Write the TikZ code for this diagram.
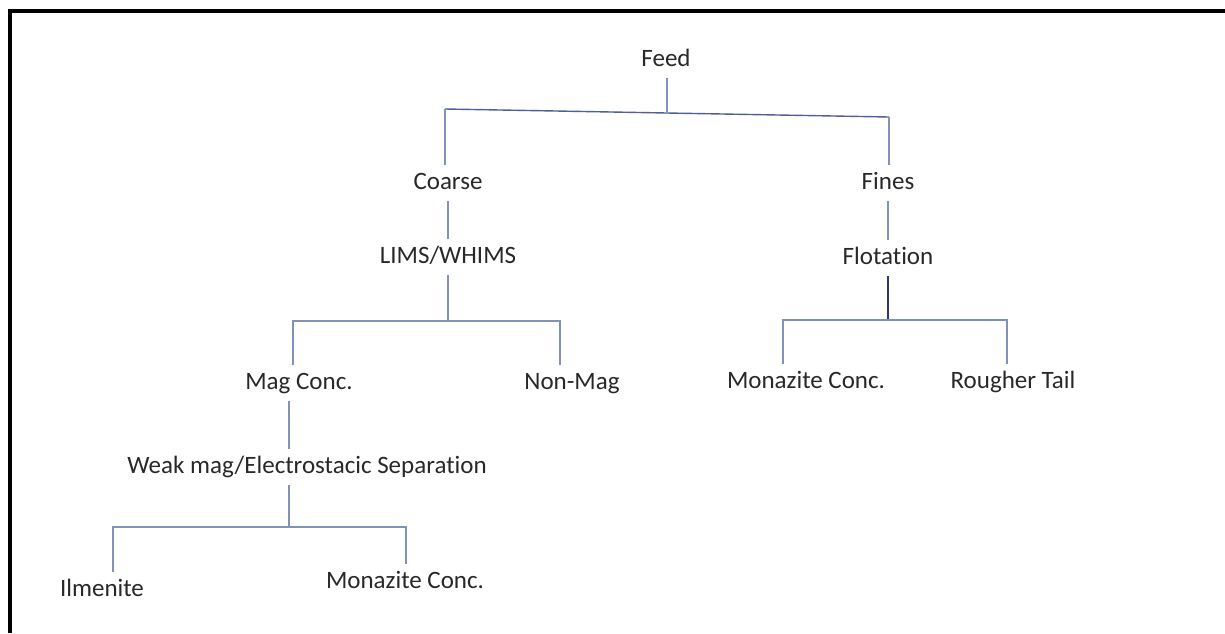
\documentclass[tikz,border=0pt]{standalone}
\usepackage{fontspec}
\setmainfont{Carlito}[Ligatures=NoCommon]
\usepackage{tikz}
\usetikzlibrary{calc}

\definecolor{txtgray}{RGB}{40,40,40}
\definecolor{linkblue}{RGB}{130,145,185}
\definecolor{barblue}{RGB}{80,95,150}
\definecolor{darkblue}{RGB}{45,55,115}

\tikzset{
    lbl/.style={anchor=base, inner sep=0pt, outer sep=6pt, text height=18pt, text depth=6pt,
        text=txtgray, font=\fontsize{25}{30}\selectfont},
    link/.style={linkblue, line width=1.4pt},
}

\begin{document}
\begin{tikzpicture}[x=1pt,y=-1pt]
        \useasboundingbox (0,0) rectangle (1225,633);

        % Moldura
        \draw[line width=4pt] (10.3,633) -- (10.3,10.5) -- (1225,10.5);

        % Etapas
        \node[lbl] (feed)   at (666,66)  {Feed};
        \node[lbl] (coarse) at (448,189) {Coarse};
        \node[lbl] (fines)  at (888,189) {Fines};
        \node[lbl] (lims)   at (448,263) {LIMS/WHIMS};
        \node[lbl] (flot)   at (888,264) {Flotation};
        \node[lbl] (magc)   at (299,389) {Mag Conc.};
        \node[lbl] (nonmag) at (572,389) {Non-Mag};
        \node[lbl] (monr)   at (806,388) {Monazite Conc.};
        \node[lbl] (rough)  at (1013,388) {Rougher Tail};
        \node[lbl] (weak)   at (307,473) {Weak mag/Electrostacic Separation};
        \node[lbl] (ilm)    at (102,596) {Ilmenite};
        \node[lbl] (monb)   at (405,588) {Monazite Conc.};

        % Junções
        \coordinate (fbL) at (445,109);
        \coordinate (fbR) at (889,117);
        \coordinate (fbM) at ($(fbL)!0.5!(fbR)$);
        \coordinate (lbL) at (293,321);
        \coordinate (lbR) at (560,321);
        \coordinate (obL) at (783,320);
        \coordinate (obR) at (1007,320);
        \coordinate (wbL) at (113,527);
        \coordinate (wbM) at (289,527);
        \coordinate (wbR) at (406,527);

        % Feed
        \draw[barblue, line width=1.4pt] (fbL) -- (fbR);
        \draw[link] (fbM |- feed.south) -- (fbM);
        \draw[link] (fbL) -- (fbL |- coarse.north);
        \draw[link] (fbR) -- (fbR |- fines.north);
        \draw[link] (coarse) -- (lims);
        \draw[link] (fines) -- (flot);

        % Separação magnética
        \draw[link] (lims.south) -- (lims.south |- lbL);
        \draw[link] (lbL |- magc.north) -- (lbL) -- (lbR) -- (lbR |- nonmag.north);

        % Flotação
        \draw[darkblue, line width=1.4pt] (flot.south) -- (flot.south |- obL);
        \draw[link] (obL |- monr.north) -- (obL) -- (obR) -- (obR |- rough.north);

        % Mag Conc.
        \draw[link] (wbM |- magc.south) -- (wbM |- weak.north);
        \draw[link] (wbM |- weak.south) -- (wbM);
        \draw[link] (wbL |- ilm.north) -- (wbL) -- (wbR) -- (wbR |- monb.north);
    \end{tikzpicture}
\end{document}
